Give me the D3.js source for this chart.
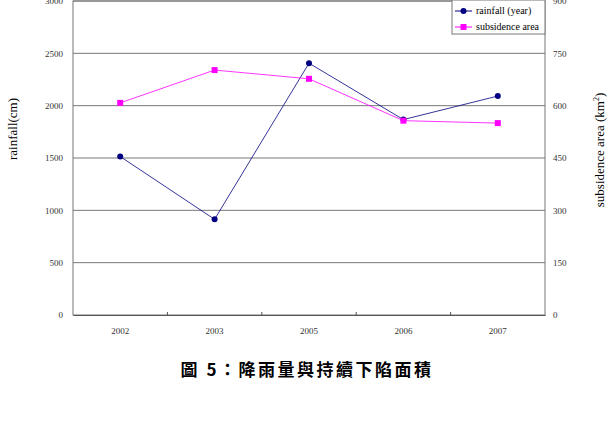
<!DOCTYPE html>
<html>
<head>
<meta charset="utf-8">
<script src="https://d3js.org/d3.v7.min.js"></script>
<style>
	body { margin: 0; background: #fff; }
	svg text { font-family: "Liberation Serif", "DejaVu Serif", serif; }
	.tick text { font-family: "Liberation Serif", serif; font-size: 9px; fill: #333; }
	.caption { font-family: "Noto Sans CJK TC", sans-serif !important; font-size: 17px; font-weight: bold; letter-spacing: 2.5px; }
</style>
</head>
<body>
<svg width="609" height="436"></svg>
<script>
	// chart data
	var years = ["2002", "2003", "2005", "2006", "2007"];
	var rainfall = [1514, 914, 2406, 1867, 2092];
	var subsidence = [608, 702, 677, 557, 550];
	var leftTicks = [0, 500, 1000, 1500, 2000, 2500, 3000];
	var rightTicks = [0, 150, 300, 450, 600, 750, 900];

	var svg = d3.select("svg");
	var pLeft = 73, pRight = 545, pTop = 1, pBottom = 315;

	var x = d3.scaleBand().domain(years).range([pLeft, pRight]);
	var yL = d3.scaleLinear().domain([0, 3000]).range([pBottom, pTop]);
	var yR = d3.scaleLinear().domain([0, 900]).range([pBottom, pTop]);

	// grid lines
	svg.append("g")
		.selectAll("line")
		.data(leftTicks.slice(1))
		.enter()
		.append("line")
		.attr("x1", pLeft).attr("x2", pRight)
		.attr("y1", function(d) { return yL(d); })
		.attr("y2", function(d) { return yL(d); })
		.attr("stroke", "#777")
		.attr("stroke-width", 1);

	// plot frame
	svg.append("rect")
		.attr("x", pLeft).attr("y", pTop)
		.attr("width", pRight - pLeft).attr("height", pBottom - pTop)
		.attr("fill", "none")
		.attr("stroke", "#777");

	// x axis
	var xAxis = svg.append("g")
		.attr("transform", "translate(0," + pBottom + ")")
		.call(d3.axisBottom(x).tickSize(0).tickPadding(13));
	xAxis.select(".domain").attr("stroke", "#555");
	svg.append("g")
		.selectAll("line")
		.data(years.slice(1))
		.enter()
		.append("line")
		.attr("x1", function(d) { return x(d); })
		.attr("x2", function(d) { return x(d); })
		.attr("y1", pBottom).attr("y2", pBottom - 3)
		.attr("stroke", "#555");

	// left axis
	var la = svg.append("g")
		.attr("transform", "translate(" + pLeft + ",0)")
		.call(d3.axisLeft(yL).tickValues(leftTicks).tickFormat(d3.format("d")).tickSize(0).tickPadding(10));
	la.select(".domain").remove();

	// right axis
	var ra = svg.append("g")
		.attr("transform", "translate(" + pRight + ",0)")
		.call(d3.axisRight(yR).tickValues(rightTicks).tickFormat(d3.format("d")).tickSize(0).tickPadding(8));
	ra.select(".domain").remove();

	// axis titles
	svg.append("text")
		.attr("transform", "translate(17,129) rotate(-90)")
		.attr("text-anchor", "middle")
		.style("font-size", "13px")
		.text("rainfall(cm)");

	var rt = svg.append("text")
		.attr("transform", "translate(604,150) rotate(-90)")
		.attr("text-anchor", "middle")
		.style("font-size", "13px");
	rt.append("tspan").text("subsidence area (km");
	rt.append("tspan").attr("dy", -5).style("font-size", "8px").text("2");
	rt.append("tspan").attr("dy", 5).text(")");

	var cx = function(d, i) { return x(years[i]) + x.bandwidth() / 2; };

	// rainfall line
	svg.append("path")
		.datum(rainfall)
		.attr("fill", "none")
		.attr("stroke", "#000080")
		.attr("stroke-width", 0.8)
		.attr("d", d3.line().x(cx).y(function(d) { return yL(d); }));
	svg.append("g")
		.selectAll("circle")
		.data(rainfall)
		.enter()
		.append("circle")
		.attr("cx", cx)
		.attr("cy", function(d) { return yL(d); })
		.attr("r", 3)
		.attr("fill", "#000080");

	// subsidence line
	svg.append("path")
		.datum(subsidence)
		.attr("fill", "none")
		.attr("stroke", "#ff00ff")
		.attr("stroke-width", 0.8)
		.attr("d", d3.line().x(cx).y(function(d) { return yR(d); }));
	svg.append("g")
		.selectAll("rect")
		.data(subsidence)
		.enter()
		.append("rect")
		.attr("x", function(d, i) { return cx(d, i) - 3; })
		.attr("y", function(d) { return yR(d) - 3; })
		.attr("width", 6).attr("height", 6)
		.attr("fill", "#ff00ff");

	// legend
	var lg = svg.append("g").attr("transform", "translate(452,0)");
	lg.append("rect")
		.attr("x", 0).attr("y", 0).attr("width", 93).attr("height", 34)
		.attr("fill", "#fff").attr("stroke", "#777");
	lg.append("line").attr("x1", 3).attr("x2", 20).attr("y1", 11).attr("y2", 11)
		.attr("stroke", "#000080");
	lg.append("circle").attr("cx", 11.5).attr("cy", 11).attr("r", 3).attr("fill", "#000080");
	lg.append("text").attr("x", 24).attr("y", 14).style("font-size", "10px").text("rainfall (year)");
	lg.append("line").attr("x1", 3).attr("x2", 20).attr("y1", 27).attr("y2", 27)
		.attr("stroke", "#ff00ff");
	lg.append("rect").attr("x", 8.5).attr("y", 24).attr("width", 6).attr("height", 6).attr("fill", "#ff00ff");
	lg.append("text").attr("x", 24).attr("y", 30).style("font-size", "10px").text("subsidence area");

	// caption
	svg.append("text")
		.attr("class", "caption")
		.attr("x", 307).attr("y", 376)
		.attr("text-anchor", "middle")
		.text("圖 5：降雨量與持續下陷面積");
</script>
</body>
</html>
